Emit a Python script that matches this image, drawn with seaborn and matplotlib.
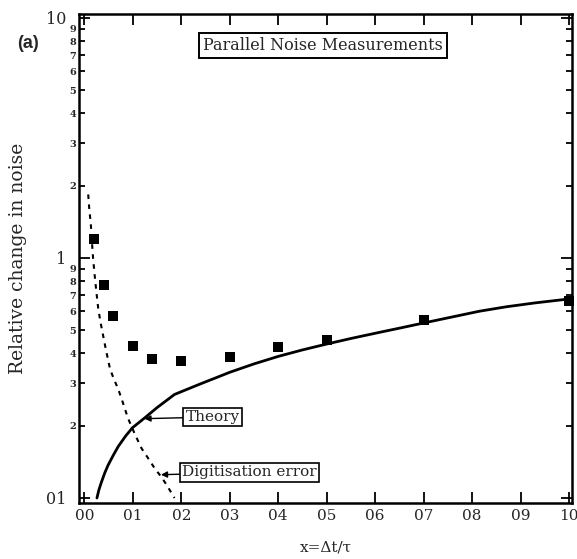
import matplotlib
matplotlib.use("Agg")
import matplotlib.pyplot as plt
import seaborn as sns
import pandas as pd

# ---- data ----
meas_x = [0.02, 0.04, 0.06, 0.10, 0.14, 0.20, 0.30, 0.40, 0.50, 0.70, 1.00]
meas_y = [1.20, 0.77, 0.575, 0.43, 0.38, 0.373, 0.386, 0.425, 0.457, 0.552, 0.66]

theory_x = [0.026, 0.030, 0.035, 0.042, 0.049, 0.060, 0.070, 0.085, 0.099, 0.125,
            0.150, 0.186, 0.238, 0.270, 0.300, 0.350, 0.400, 0.450, 0.500, 0.550,
            0.609, 0.650, 0.700, 0.750, 0.815, 0.870, 0.930, 1.000]
theory_y = [0.100, 0.108, 0.116, 0.127, 0.137, 0.151, 0.164, 0.181, 0.196, 0.216,
            0.238, 0.270, 0.298, 0.316, 0.334, 0.362, 0.389, 0.414, 0.438, 0.462,
            0.490, 0.510, 0.536, 0.563, 0.600, 0.626, 0.650, 0.675]

digit_x = [0.008, 0.010, 0.0134, 0.0155, 0.018, 0.021, 0.024, 0.0285, 0.033, 0.037,
           0.0445, 0.0526, 0.060, 0.0697, 0.080, 0.090, 0.104, 0.118, 0.132, 0.145,
           0.158, 0.169, 0.186]
digit_y = [1.84, 1.62, 1.38, 1.18, 1.0, 0.86, 0.75, 0.62, 0.545, 0.495,
           0.415, 0.348, 0.316, 0.285, 0.248, 0.215, 0.185, 0.161, 0.146, 0.133,
           0.123, 0.114, 0.100]

x_ticks = [0.0, 0.1, 0.2, 0.3, 0.4, 0.5, 0.6, 0.7, 0.8, 0.9, 1.0]
x_tick_labels = ["00", "01", "02", "03", "04", "05", "06", "07", "08", "09", "10"]
y_major = [0.1, 1, 10]
y_major_labels = ["01", "1", "10"]
y_minor = [0.2, 0.3, 0.4, 0.5, 0.6, 0.7, 0.8, 0.9, 2, 3, 4, 5, 6, 7, 8, 9]
y_minor_labels = ["2", "3", "4", "5", "6", "7", "8", "9"] * 2

title_text = "Parallel Noise Measurements"
theory_label = "Theory"
digit_label = "Digitisation error"
panel_label = "(a)"
x_label = "x=\u0394t/\u03c4"
y_label = "Relative change in noise"

# ---- figure ----
sns.set_style("ticks")
plt.rcParams["font.family"] = ["DejaVu Serif"]

fig = plt.figure(figsize=(5.77, 5.59), dpi=100)
ax = fig.add_axes([79 / 577, 1 - 503 / 559, (572 - 79) / 577, (503 - 14) / 559])

meas = pd.DataFrame({"x": meas_x, "y": meas_y})
theory = pd.DataFrame({"x": theory_x, "y": theory_y})
digit = pd.DataFrame({"x": digit_x, "y": digit_y})

sns.lineplot(data=theory, x="x", y="y", ax=ax, color="black", lw=2.0,
             sort=False, estimator=None)
sns.lineplot(data=digit, x="x", y="y", ax=ax, color="black", lw=1.5,
             sort=False, estimator=None, linestyle=(0, (2.2, 2.6)))
sns.scatterplot(data=meas, x="x", y="y", ax=ax, color="black", marker="s",
                s=42, edgecolor="black", linewidth=0, zorder=5, clip_on=False)

ax.set_yscale("log")
ax.set_xlim(-0.011, 1.006)
ax.set_ylim(0.0953, 10.39)

ax.set_xticks(x_ticks)
ax.set_xticklabels(x_tick_labels, fontsize=11)
ax.xaxis.set_minor_locator(matplotlib.ticker.NullLocator())
ax.set_yticks(y_major)
ax.set_yticklabels(y_major_labels, fontsize=11.5)
ax.set_yticks(y_minor, minor=True)
ax.set_yticklabels(y_minor_labels, minor=True, fontsize=7, fontweight="bold")

ax.tick_params(which="both", direction="in", top=True, right=True,
               color="black", width=1.3)
ax.tick_params(which="major", length=8, pad=4)
ax.tick_params(axis="y", which="major", pad=9)
ax.tick_params(which="minor", length=4, pad=2)
for s in ax.spines.values():
    s.set_linewidth(1.8)
    s.set_color("black")

ax.set_xlabel(x_label, fontsize=11, labelpad=13)
ax.set_ylabel(y_label, fontsize=13.5, labelpad=14)

ax.text(0.493, 7.68, title_text, ha="center", va="center", fontsize=11.5,
        bbox=dict(boxstyle="square,pad=0.25", fc="white", ec="black", lw=1.4))

ax.annotate(theory_label, xy=(0.124, 0.214), xytext=(0.265, 0.2175),
            ha="center", va="center", fontsize=11,
            bbox=dict(boxstyle="square,pad=0.15", fc="white", ec="black", lw=1.2),
            arrowprops=dict(arrowstyle="-|>", color="black", lw=1.0,
                            mutation_scale=9, shrinkA=0, shrinkB=0))
ax.annotate(digit_label, xy=(0.158, 0.125), xytext=(0.341, 0.128),
            ha="center", va="center", fontsize=11,
            bbox=dict(boxstyle="square,pad=0.15", fc="white", ec="black", lw=1.2),
            arrowprops=dict(arrowstyle="-|>", color="black", lw=1.0,
                            mutation_scale=9, shrinkA=0, shrinkB=0))

fig.text(27.5 / 577, 1 - 44 / 559, panel_label, ha="center", va="center",
         fontsize=13, fontweight="bold", family="Liberation Sans")

fig.savefig("out.png", dpi=100)
